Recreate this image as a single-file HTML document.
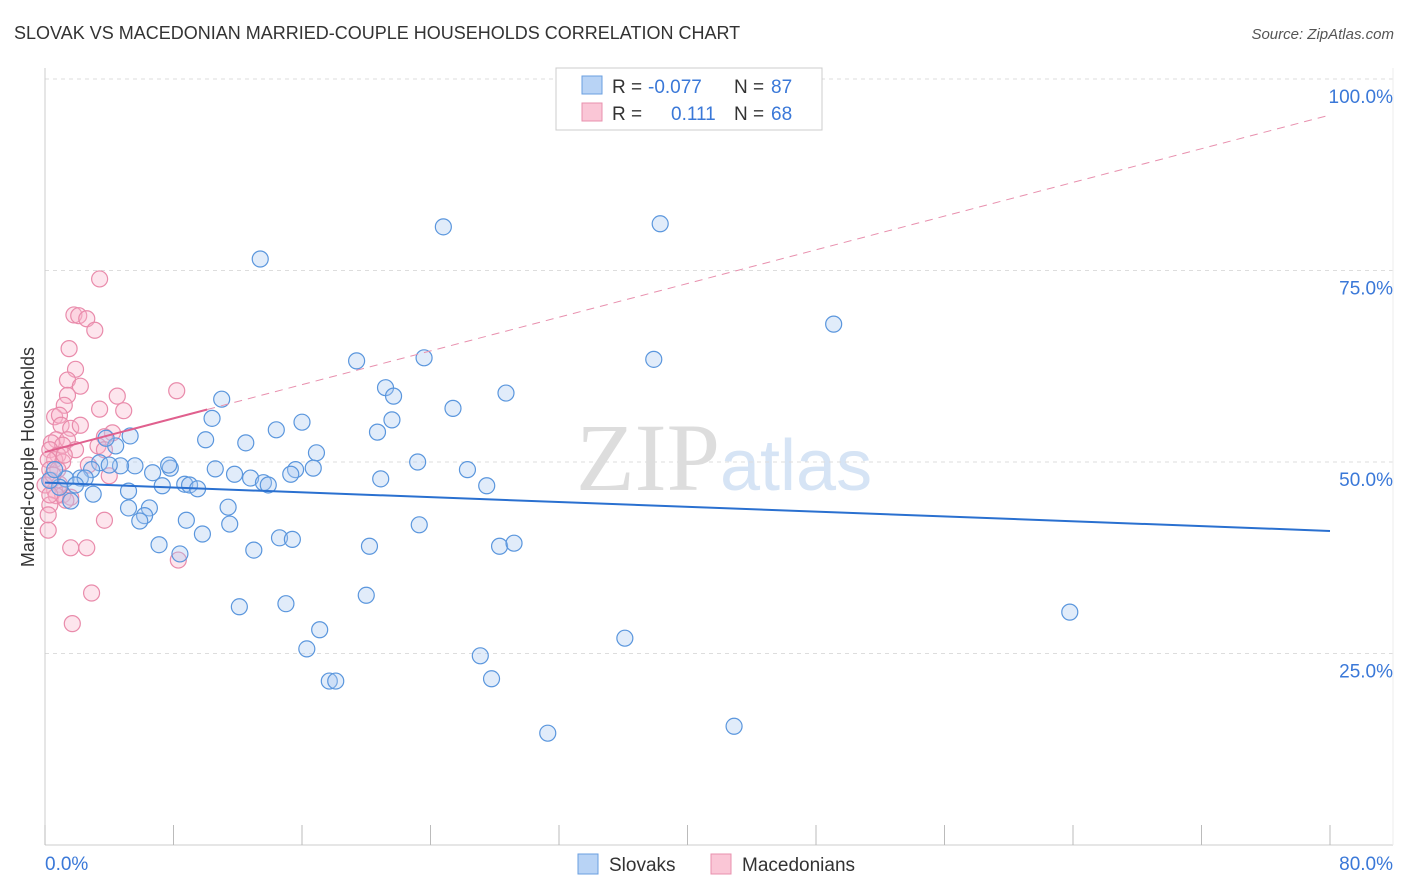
<!DOCTYPE html>
<html><head><meta charset="utf-8">
<style>
body{margin:0;background:#fff;font-family:"Liberation Sans",sans-serif;}
#wrap{position:relative;width:1406px;height:892px;overflow:hidden;}
</style></head>
<body>
<div id="wrap">
<svg id="chart" width="1406" height="892" xmlns="http://www.w3.org/2000/svg">
<text x="14" y="39" font-size="18" fill="#333">SLOVAK VS MACEDONIAN MARRIED-COUPLE HOUSEHOLDS CORRELATION CHART</text>
<text x="1394" y="39" font-size="15" fill="#555" font-style="italic" text-anchor="end">Source: ZipAtlas.com</text>
<text x="720" y="490" font-size="96" fill="#ddd" font-family="Liberation Serif" text-anchor="end">ZIP</text>
<text x="720" y="490" font-size="72" fill="#d6e4f5">atlas</text>
<g id="grid"></g>
<g id="axes"></g>
<g id="pts"></g>
<g id="trends"></g>
<text transform="translate(34,457) rotate(-90)" font-size="18" fill="#333" text-anchor="middle">Married-couple Households</text>
<g>
<rect x="556" y="68" width="266" height="62" fill="#fff" stroke="#ccc"/>
<rect x="582" y="76" width="20" height="18" fill="#b8d3f5" stroke="#6a9fe0"/>
<rect x="582" y="103" width="20" height="18" fill="#fac6d6" stroke="#e890ae"/>
<text x="612" y="93" font-size="19" fill="#333">R =</text>
<text x="648" y="93" font-size="19" fill="#3a78d8">-0.077</text>
<text x="734" y="93" font-size="19" fill="#333">N =</text>
<text x="771" y="93" font-size="19" fill="#3a78d8">87</text>
<text x="612" y="120" font-size="19" fill="#333">R =</text>
<text x="671" y="120" font-size="19" fill="#3a78d8">0.111</text>
<text x="734" y="120" font-size="19" fill="#333">N =</text>
<text x="771" y="120" font-size="19" fill="#3a78d8">68</text>
</g>
<g>
<rect x="578" y="854" width="20" height="20" fill="#b8d3f5" stroke="#6a9fe0"/>
<text x="609" y="871" font-size="19" fill="#333">Slovaks</text>
<rect x="711" y="854" width="20" height="20" fill="#fac6d6" stroke="#e890ae"/>
<text x="742" y="871" font-size="19" fill="#333">Macedonians</text>
</g>
</svg>
</div>
<script>
const blueX=[24.8,38.3,13.4,49.1,37.9,19.4,23.6,21.2,28.7,21.7,11.0,25.4,10.4,16.0,21.6,20.7,14.4,10.0,12.5,16.9,4.4,5.3,3.8,23.2,26.3,15.6,16.7,10.6,7.8,7.7,6.7,5.6,4.7,3.4,2.9,2.2,1.3,0.9,11.8,12.8,13.6,13.9,15.3,20.9,27.5,8.7,9.0,9.5,7.3,5.2,3.0,1.6,5.2,6.5,11.4,6.2,5.9,8.8,11.5,23.3,9.8,14.6,15.4,7.1,8.4,13.0,20.2,28.3,29.2,12.1,15.0,20.0,17.1,36.1,16.3,63.8,27.1,27.8,17.7,18.1,31.3,42.9,0.3,0.6,2.5,4.0,1.9];
const blueY=[80.7,81.1,76.5,68.0,63.4,63.2,63.6,59.7,59.0,58.6,58.2,57.0,55.7,55.2,55.5,53.9,54.2,52.9,52.5,51.2,52.1,53.4,53.1,50.0,49.0,49.0,49.2,49.1,49.2,49.6,48.6,49.5,49.5,49.9,49.0,47.9,47.8,46.7,48.4,47.9,47.3,47.0,48.4,47.8,46.9,47.1,47.0,46.5,46.9,46.2,45.8,44.9,44.0,44.0,44.1,43.0,42.3,42.4,41.9,41.8,40.6,40.1,39.9,39.2,38.0,38.5,39.0,39.0,39.4,31.1,31.5,32.6,28.1,27.0,25.6,30.4,24.7,21.7,21.4,21.4,14.6,15.5,47.6,49.0,47.9,49.6,47.0];
const pinkX=[3.4,1.8,2.1,2.6,3.1,1.5,1.9,1.4,2.2,4.5,1.4,3.4,4.9,1.2,0.6,0.9,1.0,1.6,2.2,4.2,3.7,3.3,0.7,0.4,1.4,1.9,1.1,0.3,0.8,0.6,1.1,0.2,0.3,2.7,4.0,0.4,0.9,0.6,1.1,1.6,1.3,0.7,0.3,0.2,0.2,3.7,1.6,2.6,2.9,1.7,8.2,8.3,3.7,0.0,0.3,0.8,1.2,0.5];
const pinkY=[73.9,69.2,69.1,68.7,67.2,64.8,62.1,60.7,59.9,58.6,58.7,56.9,56.7,57.4,55.9,56.1,54.8,54.4,54.8,53.8,53.3,52.1,52.9,52.5,52.9,51.6,52.2,51.6,50.9,50.3,50.0,50.3,49.0,49.6,48.2,47.6,47.1,46.3,45.7,45.4,45.0,45.6,44.4,43.1,41.1,42.4,38.8,38.8,32.9,28.9,59.3,37.2,51.6,47.0,45.7,49.0,50.9,48.3];
const yTicks=[25,50,75,100];
const yTickLabels=["25.0%","50.0%","75.0%","100.0%"];
const xTicks=[0,8,16,24,32,40,48,56,64,72,80];
const blueTrend=[47.3,41.0];
const pinkTrend=[51.3,0.55];
const NS="http://www.w3.org/2000/svg";
const xs=v=>45+v*(1330-45)/80;
const ys=v=>845-v*7.66;
function mk(tag,attrs,parent){const e=document.createElementNS(NS,tag);for(const k in attrs)e.setAttribute(k,attrs[k]);document.getElementById(parent).appendChild(e);return e;}
yTicks.forEach((t,i)=>{
  const l=mk('line',{x1:45,x2:1393,y1:ys(t),y2:ys(t),stroke:'#ddd','stroke-dasharray':'4,4'},'grid');
  
  
  const tx=mk('text',{x:1393,y:ys(t)+24,'font-size':19,fill:'#3a78d8','text-anchor':'end'},'grid');
  tx.textContent=yTickLabels[i];
  
  
});
let a=mk('line',{x1:45,x2:45,y1:68,y2:845,stroke:'#ccc'},'axes');

a=mk('line',{x1:45,x2:1393,y1:845,y2:845,stroke:'#ccc'},'axes');

a=mk('line',{x1:1393,x2:1393,y1:68,y2:845,stroke:'#eee'},'axes');

xTicks.forEach(t=>{const l=mk('line',{x1:xs(t),x2:xs(t),y1:825,y2:845,stroke:'#bbb'},'axes');

});
let t0=mk('text',{x:45,y:870,'font-size':19,fill:'#3a78d8'},'axes');t0.textContent='0.0%';

t0=mk('text',{x:1393,y:870,'font-size':19,fill:'#3a78d8','text-anchor':'end'},'axes');t0.textContent='80.0%';

pinkX.forEach((x,i)=>{const c=mk('circle',{cx:xs(x),cy:ys(pinkY[i]),r:8,fill:'rgba(248,180,202,0.35)',stroke:'#e98bab','stroke-width':1.2},'pts');

});
blueX.forEach((x,i)=>{const c=mk('circle',{cx:xs(x),cy:ys(blueY[i]),r:8,fill:'rgba(170,200,240,0.35)',stroke:'#5a96dd','stroke-width':1.2},'pts');

});
let tl=mk('line',{x1:xs(0),y1:ys(blueTrend[0]),x2:xs(80),y2:ys(blueTrend[1]),stroke:'#2a70d0','stroke-width':2},'trends');

tl=mk('line',{x1:xs(10.1),y1:ys(pinkTrend[0]+pinkTrend[1]*10.1),x2:xs(80),y2:ys(pinkTrend[0]+pinkTrend[1]*80),stroke:'#e890ae','stroke-width':1,'stroke-dasharray':'8,6'},'trends');

tl=mk('line',{x1:xs(0),y1:ys(pinkTrend[0]),x2:xs(10.1),y2:ys(pinkTrend[0]+pinkTrend[1]*10.1),stroke:'#e0608e','stroke-width':2},'trends');

</script>
</body></html>
